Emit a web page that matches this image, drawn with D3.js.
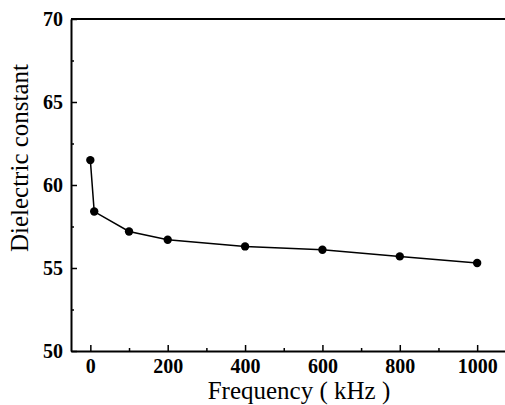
<!DOCTYPE html>
<html>
<head>
<meta charset="utf-8">
<script src="https://cdn.jsdelivr.net/npm/d3@7"></script>
<style>
  body { margin: 0; background: #fff; }
  text { font-family: "Liberation Serif", "DejaVu Serif", serif; fill: #000; }
</style>
</head>
<body>
<script>
const w = 505
const h = 405

// Data: dielectric constant vs frequency (kHz)
const frequency = [0, 10, 100, 200, 400, 600, 800, 1000]
const dielectric = [61.5, 58.4, 57.2, 56.7, 56.3, 56.1, 55.7, 55.3]
const xTicks = [0, 200, 400, 600, 800, 1000]
const xMinor = [100, 300, 500, 700, 900]
const yTicks = [50, 55, 60, 65, 70]
const yMinor = [52.5, 57.5, 62.5, 67.5]

const plotLeft = 71, plotTop = 19, plotBottom = 351

const svg = d3.select("body")
              .append("svg")
              .attr("width", w)
              .attr("height", h)

const x = d3.scaleLinear()
            .domain([-50, 1072])
            .range([plotLeft, w])

const y = d3.scaleLinear()
            .domain([50, 70])
            .range([plotBottom, plotTop])

// x axis, ticks point inward
const xAxis = svg.append("g")
                .attr("transform", `translate(0, ${plotBottom})`)
                .call(d3.axisBottom(x).tickValues(xTicks).tickFormat(d3.format("d"))
                        .tickSize(-6).tickPadding(8).tickSizeOuter(0))
xAxis.select(".domain").attr("stroke-width", 2)
xAxis.selectAll(".tick line").attr("stroke-width", 1.5)
xAxis.selectAll("text").attr("font-size", 20).attr("font-weight", "bold")
                      .style("font-family", "'Liberation Serif', serif")
svg.append("g")
    .attr("transform", `translate(0, ${plotBottom})`)
    .call(d3.axisBottom(x).tickValues(xMinor).tickSize(-3).tickFormat(""))
    .call(g => g.select(".domain").remove())
    .selectAll("line").attr("stroke-width", 1.5)

// y axis
const yAxis = svg.append("g")
                .attr("transform", `translate(${plotLeft}, 0)`)
                .call(d3.axisLeft(y).tickValues(yTicks).tickSize(-6).tickPadding(8).tickSizeOuter(0))
yAxis.select(".domain").attr("stroke-width", 2)
yAxis.selectAll(".tick line").attr("stroke-width", 1.5)
yAxis.selectAll("text").attr("font-size", 20).attr("font-weight", "bold")
                      .style("font-family", "'Liberation Serif', serif")
svg.append("g")
    .attr("transform", `translate(${plotLeft}, 0)`)
    .call(d3.axisLeft(y).tickValues(yMinor).tickSize(-3).tickFormat(""))
    .call(g => g.select(".domain").remove())
    .selectAll("line").attr("stroke-width", 1.5)

// top frame line (no right-hand axis)
svg.append("line")
    .attr("x1", plotLeft).attr("x2", w)
    .attr("y1", y(70)).attr("y2", y(70))
    .attr("stroke", "#000")
    .attr("stroke-width", 2)

// data line and points
const line = d3.line()
               .x((d, i) => x(frequency[i]))
               .y(d => y(d))

svg.append("path")
    .datum(dielectric)
    .attr("d", line)
    .attr("fill", "none")
    .attr("stroke", "#000")
    .attr("stroke-width", 1.5)

svg.selectAll("circle")
    .data(dielectric)
    .enter()
    .append("circle")
    .attr("cx", (d, i) => x(frequency[i]))
    .attr("cy", d => y(d))
    .attr("r", 4.2)
    .attr("fill", "#000")

// axis titles
svg.append("text")
    .attr("x", 299)
    .attr("y", 399)
    .attr("text-anchor", "middle")
    .attr("font-size", 25)
    .text("Frequency ( kHz )")

svg.append("text")
    .attr("transform", `translate(28, 158) rotate(-90)`)
    .attr("text-anchor", "middle")
    .attr("font-size", 25)
    .text("Dielectric constant")
</script>
</body>
</html>
